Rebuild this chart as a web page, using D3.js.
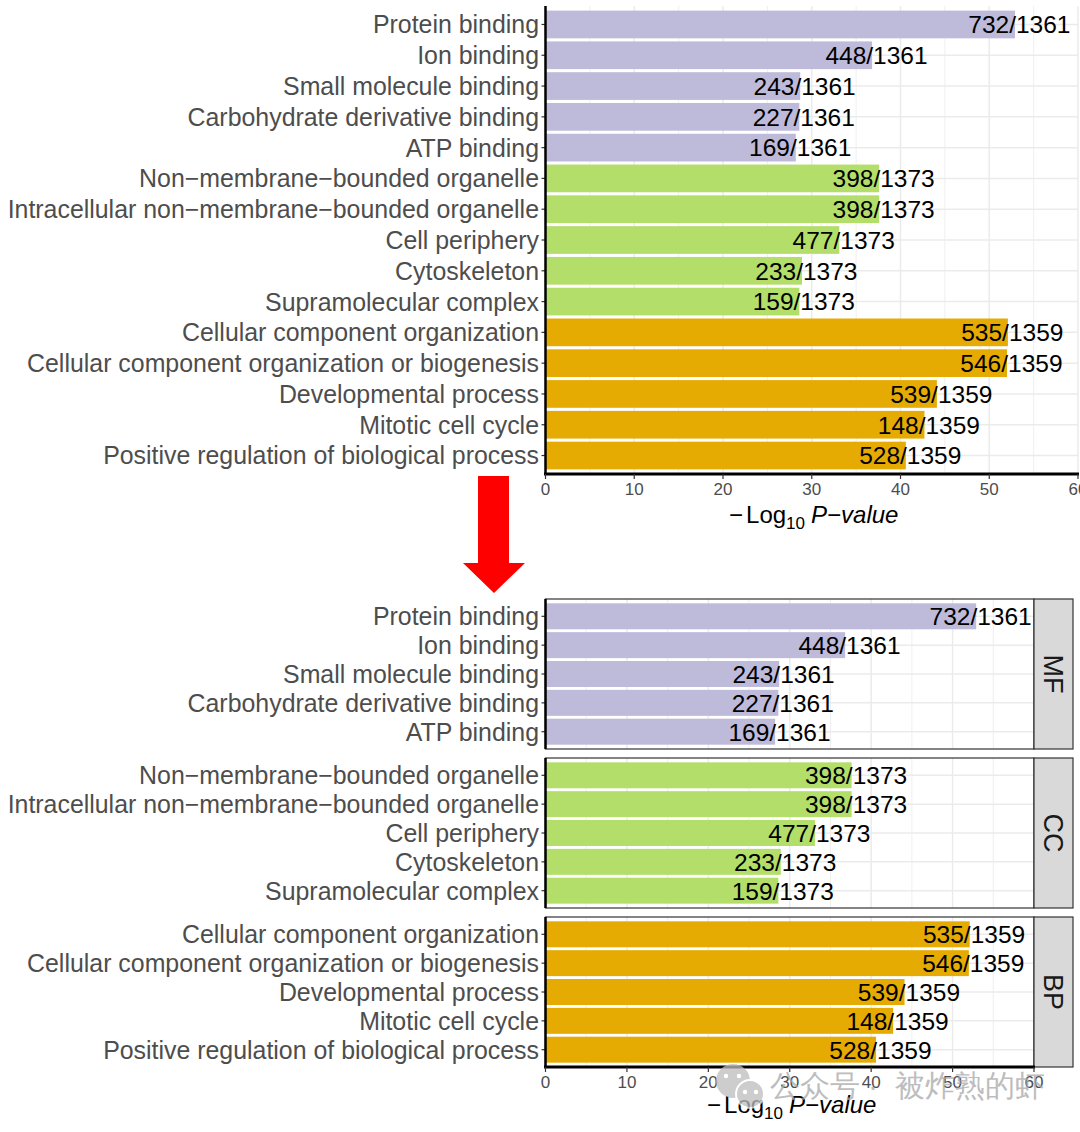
<!DOCTYPE html>
<html>
<head>
<meta charset="utf-8">
<script src="https://cdn.jsdelivr.net/npm/d3@7"></script>
<style>
  body { margin: 0; background: #fff; }
  text { font-family: "Liberation Sans", Arial, sans-serif; }
</style>
</head>
<body>
<div id="chart"></div>
<script>
// GO terms, top to bottom
const categories = [
  'Protein binding', 'Ion binding', 'Small molecule binding', 'Carbohydrate derivative binding', 'ATP binding',
  'Non\u2212membrane\u2212bounded organelle', 'Intracellular non\u2212membrane\u2212bounded organelle',
  'Cell periphery', 'Cytoskeleton', 'Supramolecular complex',
  'Cellular component organization', 'Cellular component organization or biogenesis',
  'Developmental process', 'Mitotic cell cycle', 'Positive regulation of biological process'
];
const ontology = ['MF', 'MF', 'MF', 'MF', 'MF', 'CC', 'CC', 'CC', 'CC', 'CC', 'BP', 'BP', 'BP', 'BP', 'BP'];
const logP = [52.9, 36.8, 28.7, 28.6, 28.2, 37.6, 37.6, 33.1, 28.9, 28.6, 52.1, 52.0, 44.1, 42.7, 40.6];
const hits = [732, 448, 243, 227, 169, 398, 398, 477, 233, 159, 535, 546, 539, 148, 528];
const totals = [1361, 1361, 1361, 1361, 1361, 1373, 1373, 1373, 1373, 1373, 1359, 1359, 1359, 1359, 1359];
const facets = ['MF', 'CC', 'BP'];
const xTicks = [0, 10, 20, 30, 40, 50, 60];
const xMinor = [5, 15, 25, 35, 45, 55];

const data = categories.map((c, i) => ({
  term: c, ont: ontology[i], value: logP[i], hit: hits[i], total: totals[i]
}));

const color = d3.scaleOrdinal().domain(facets).range(['#bebada', '#b3de69', '#e6ab02']);

const svg = d3.select('#chart').append('svg')
  .attr('width', 1080).attr('height', 1132)
  .style('background', '#fff');

const labelRight = 539;
const gridColor = '#ebebeb';

// draw one panel: grid, bars, count labels, y labels and ticks
function drawPanel(g, rows, x, y, top, bottom) {
  g.selectAll('.minor').data(xMinor).enter().append('line')
    .attr('x1', d => x(d)).attr('x2', d => x(d))
    .attr('y1', top).attr('y2', bottom)
    .attr('stroke', gridColor).attr('stroke-width', 0.8);
  g.selectAll('.major').data(xTicks).enter().append('line')
    .attr('x1', d => x(d)).attr('x2', d => x(d))
    .attr('y1', top).attr('y2', bottom)
    .attr('stroke', gridColor).attr('stroke-width', 1.5);
  g.selectAll('.hgrid').data(rows).enter().append('line')
    .attr('x1', x(0)).attr('x2', x(60))
    .attr('y1', d => y(d.term) + y.bandwidth() / 2)
    .attr('y2', d => y(d.term) + y.bandwidth() / 2)
    .attr('stroke', gridColor).attr('stroke-width', 1.5);

  g.selectAll('.bar').data(rows).enter().append('rect')
    .attr('x', x(0))
    .attr('y', d => y(d.term))
    .attr('width', d => x(d.value) - x(0))
    .attr('height', y.bandwidth())
    .attr('fill', d => color(d.ont));

  // count labels, slash sits at the bar end
  g.selectAll('.num').data(rows).enter().append('text')
    .attr('x', d => x(d.value) + 1)
    .attr('y', d => y(d.term) + y.bandwidth() / 2)
    .attr('dy', '0.36em')
    .attr('text-anchor', 'end')
    .attr('font-size', 24.5)
    .attr('fill', '#000')
    .text(d => d.hit + '/');
  g.selectAll('.den').data(rows).enter().append('text')
    .attr('x', d => x(d.value) + 1)
    .attr('y', d => y(d.term) + y.bandwidth() / 2)
    .attr('dy', '0.36em')
    .attr('font-size', 24.5)
    .attr('fill', '#000')
    .text(d => d.total);

  g.selectAll('.ylab').data(rows).enter().append('text')
    .attr('x', labelRight)
    .attr('y', d => y(d.term) + y.bandwidth() / 2)
    .attr('dy', '0.36em')
    .attr('text-anchor', 'end')
    .attr('font-size', 24.9)
    .attr('fill', '#4d4d4d')
    .text(d => d.term);
  g.selectAll('.ytick').data(rows).enter().append('line')
    .attr('x1', x(0) - 4).attr('x2', x(0))
    .attr('y1', d => y(d.term) + y.bandwidth() / 2)
    .attr('y2', d => y(d.term) + y.bandwidth() / 2)
    .attr('stroke', '#333').attr('stroke-width', 1.2);
}

function drawXAxis(g, x, yAxis, titleY) {
  g.append('line')
    .attr('x1', x(0) - 1.5).attr('x2', x(60) + 1)
    .attr('y1', yAxis).attr('y2', yAxis)
    .attr('stroke', '#000').attr('stroke-width', 3);
  g.selectAll('.xtick').data(xTicks).enter().append('line')
    .attr('x1', d => x(d)).attr('x2', d => x(d))
    .attr('y1', yAxis).attr('y2', yAxis + 5)
    .attr('stroke', '#333').attr('stroke-width', 1.2);
  g.selectAll('.xlab').data(xTicks).enter().append('text')
    .attr('x', d => x(d))
    .attr('y', yAxis + 21)
    .attr('text-anchor', 'middle')
    .attr('font-size', 17)
    .attr('fill', '#4d4d4d')
    .text(d => d);

  const title = g.append('text')
    .attr('x', (x(0) + x(60)) / 2 + 2)
    .attr('y', titleY)
    .attr('text-anchor', 'middle')
    .attr('font-size', 24)
    .attr('fill', '#000');
  title.append('tspan').text('\u2212');
  title.append('tspan').attr('dx', 3).text('Log');
  title.append('tspan').attr('font-size', 17).attr('dy', 6).text('10');
  title.append('tspan').attr('dy', -6).attr('dx', 6).attr('font-style', 'italic').text('P\u2212value');
}

// ---- top chart: one panel ----
const xTop = d3.scaleLinear().domain([0, 60]).range([545.5, 1078]);
const yTop = d3.scaleBand().domain(categories).range([6, 474]).paddingInner(0.1).paddingOuter(0.15);
const gTop = svg.append('g');
drawPanel(gTop, data, xTop, yTop, 6, 474);
gTop.append('line')
  .attr('x1', xTop(0)).attr('x2', xTop(0))
  .attr('y1', 6).attr('y2', 474)
  .attr('stroke', '#000').attr('stroke-width', 2.5);
drawXAxis(gTop, xTop, 474, 523);

// ---- arrow ----
svg.append('polygon')
  .attr('points', '478,476 509,476 509,563 525,563 494,593 463,563 478,563')
  .attr('fill', '#ff0000');

// ---- bottom chart: faceted by ontology ----
const xBot = d3.scaleLinear().domain([0, 60]).range([545.5, 1034]);
const fScale = d3.scaleBand().domain(facets).range([599, 1067]).paddingInner(9 / 159);
const gBot = svg.append('g');
facets.forEach(f => {
  const rows = data.filter(d => d.ont === f);
  const top = fScale(f);
  const bottom = top + fScale.bandwidth();
  const y = d3.scaleBand().domain(rows.map(d => d.term)).range([top, bottom])
    .paddingInner(0.1).paddingOuter(0.15);
  const g = gBot.append('g');
  drawPanel(g, rows, xBot, y, top, bottom);
  g.append('rect')
    .attr('x', xBot(0)).attr('y', top)
    .attr('width', xBot(60) - xBot(0)).attr('height', bottom - top)
    .attr('fill', 'none').attr('stroke', '#333').attr('stroke-width', 1.2);
  g.append('line')
    .attr('x1', xBot(0)).attr('x2', xBot(0))
    .attr('y1', top).attr('y2', bottom)
    .attr('stroke', '#000').attr('stroke-width', 2.5);
  // strip
  g.append('rect')
    .attr('x', xBot(60)).attr('y', top)
    .attr('width', 39).attr('height', bottom - top)
    .attr('fill', '#d9d9d9').attr('stroke', '#333').attr('stroke-width', 1.2);
  g.append('text')
    .attr('transform', `translate(${xBot(60) + 19.5}, ${(top + bottom) / 2}) rotate(90)`)
    .attr('text-anchor', 'middle')
    .attr('dy', '0.36em')
    .attr('font-size', 27)
    .attr('fill', '#1a1a1a')
    .text(f);
});
drawXAxis(gBot, xBot, 1067, 1113);

// ---- watermark ----
const wm = svg.append('g').attr('opacity', 0.75);
wm.append('circle').attr('cx', 733).attr('cy', 1081).attr('r', 17).attr('fill', '#bdbdbd');
wm.append('circle').attr('cx', 750).attr('cy', 1094).attr('r', 14).attr('fill', '#bdbdbd')
  .attr('stroke', '#fff').attr('stroke-width', 2);
[[726, 1076], [739, 1076], [745, 1092], [756, 1092]].forEach(p => {
  wm.append('circle').attr('cx', p[0]).attr('cy', p[1]).attr('r', 2.2).attr('fill', '#fff');
});
wm.append('text')
  .attr('x', 770).attr('y', 1096)
  .attr('font-family', '"Noto Sans CJK SC", sans-serif')
  .attr('font-size', 30).attr('fill', '#a8a8a8')
  .text('公众号');
wm.append('text')
  .attr('x', 868).attr('y', 1096)
  .attr('font-family', '"Noto Sans CJK SC", sans-serif')
  .attr('font-size', 30).attr('fill', '#a8a8a8')
  .text('·');
wm.append('text')
  .attr('x', 895).attr('y', 1096)
  .attr('font-family', '"Noto Sans CJK SC", sans-serif')
  .attr('font-size', 30).attr('fill', '#a8a8a8')
  .text('被炸熟的虾');
</script>
</body>
</html>
